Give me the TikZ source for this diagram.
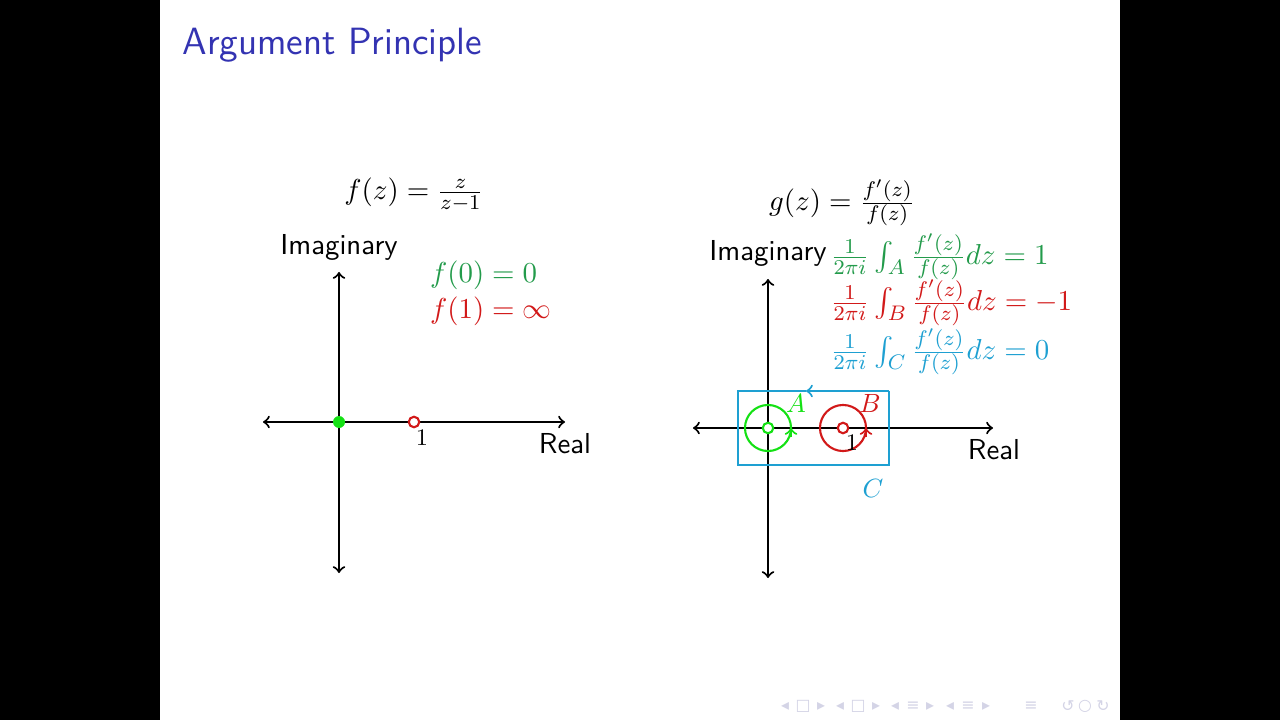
\documentclass[tikz,border=0pt,11pt]{standalone}
\usepackage{amsmath, amssymb}
\usepackage{fontspec}
\usepackage{tikz}
\usetikzlibrary{arrows, arrows.meta}
\newfontfamily\navfont{DejaVu Sans}
\definecolor{titleblue}{RGB}{51,51,178}
\definecolor{ptgreen}{RGB}{20,225,20}
\definecolor{txtgreen}{RGB}{35,155,75}
\definecolor{txtred}{RGB}{210,25,25}
\definecolor{cblue}{RGB}{30,160,210}
\definecolor{navgray}{RGB}{212,212,230}
\newcommand{\argint}[1]{\frac{1}{2\pi i}\int_{#1}\frac{f'(z)}{f(z)}dz}

\begin{document}
\begin{tikzpicture}[x=0.13333mm, y=-0.13333mm,
    axis/.style={<->, >=to, thick},
    hole/.style={circle, draw, fill=white, inner sep=0pt, minimum size=1.4mm, thick},
    lbl/.style={font=\sffamily}]

    % slide
    \fill[black] (0,0) rectangle (1280,720);
    \fill[white] (160,0) rectangle (1120,720);
    \node[anchor=base west, text=titleblue, font=\Large\sffamily, inner sep=0pt] (title) at (182,55) {Argument Principle};

    % left plane
    \coordinate (lo) at (339,422);
    \coordinate (lw) at (263,422);
    \coordinate (le) at (565,422);
    \coordinate (ln) at (339,272);
    \coordinate (ls) at (339,573);
    \draw[axis] (lw) -- (le);
    \draw[axis] (ls) -- (ln);

    \node (fdef) at (414,195) {$f(z) = \frac{z}{z-1}$};
    \node[lbl] (limag) at (339,247) {Imaginary};
    \node[lbl] (lreal) at (565,444) {Real};
    \node[anchor=west, text=txtgreen] (fzero) at (420,275) {$f(0) = 0$};
    \node[anchor=west, text=txtred] (fpole) at (420,311) {$f(1) = \infty$};

    \node[circle, fill=ptgreen, inner sep=0pt, minimum size=1.6mm] (lzero) at (lo) {};
    \node[hole, draw=txtred] (lpole) at (414,422) {};
    \node[font=\footnotesize] (lone) at (422,438) {$1$};

    % right plane
    \coordinate (ro) at (768,428);
    \coordinate (rw) at (693,428);
    \coordinate (re) at (993,428);
    \coordinate (rn) at (768,279);
    \coordinate (rs) at (768,578);
    \draw[axis] (rw) -- (re);
    \draw[axis] (rs) -- (rn);

    \node (gdef) at (842,203) {$g(z) = \frac{f'(z)}{f(z)}$};
    \node[lbl] (rimag) at (768,253) {Imaginary};
    \node[lbl] (rreal) at (994,450) {Real};

    % contour C
    \coordinate (c1) at (889,391);
    \coordinate (c2) at (806,391);
    \coordinate (c3) at (738,391);
    \coordinate (c4) at (738,465);
    \coordinate (c5) at (889,465);
    \draw[cblue, thick, ->, >=to] (c1) -- (c2);
    \draw[cblue, thick] (c2) -- (c3) -- (c4) -- (c5) -- (c1);

    % contours A and B
    \coordinate (cA) at (768,428);
    \coordinate (cB) at (843,428);
    \draw[ptgreen, thick] (cA) circle[radius=3.07mm];
    \draw[txtred, thick] (cB) circle[radius=3.07mm];
    \coordinate (aA1) at (791,437);
    \coordinate (aA2) at (791,428);
    \coordinate (aB1) at (866,437);
    \coordinate (aB2) at (866,428);
    \draw[ptgreen, thick, ->, >=to] (aA1) -- (aA2);
    \draw[txtred, thick, ->, >=to] (aB1) -- (aB2);
    \node[hole, draw=ptgreen] (rzero) at (cA) {};
    \node[hole, draw=txtred] (rpole) at (cB) {};

    \node[text=ptgreen, font=\small] (labA) at (796,403) {$A$};
    \node[text=txtred, font=\small] (labB) at (870,403) {$B$};
    \node[text=cblue, font=\small] (labC) at (873,488) {$C$};
    \node[font=\footnotesize] (rone) at (852,443) {$1$};

    % integrals
    \node[anchor=west, text=txtgreen, inner sep=0pt] (intA) at (830,257) {$\argint{A} = 1$};
    \node[anchor=west, text=txtred, inner sep=0pt] (intB) at (830,303) {$\argint{B} = -1$};
    \node[anchor=west, text=cblue, inner sep=0pt] (intC) at (830,352) {$\argint{C} = 0$};

    % navigation symbols
    \foreach \px/\g [count=\i] in {785/◂, 803/□, 821/▸, 840/◂, 858/□, 876/▸, 895/◂, 913/≡, 930/▸, 950/◂, 968/≡, 986/▸, 1031/≡, 1068/↺, 1085/○, 1103/↻}
        \node[text=navgray, font=\navfont\tiny, inner sep=0pt] (nav\i) at (\px,706) {\g};
\end{tikzpicture}
\end{document}
